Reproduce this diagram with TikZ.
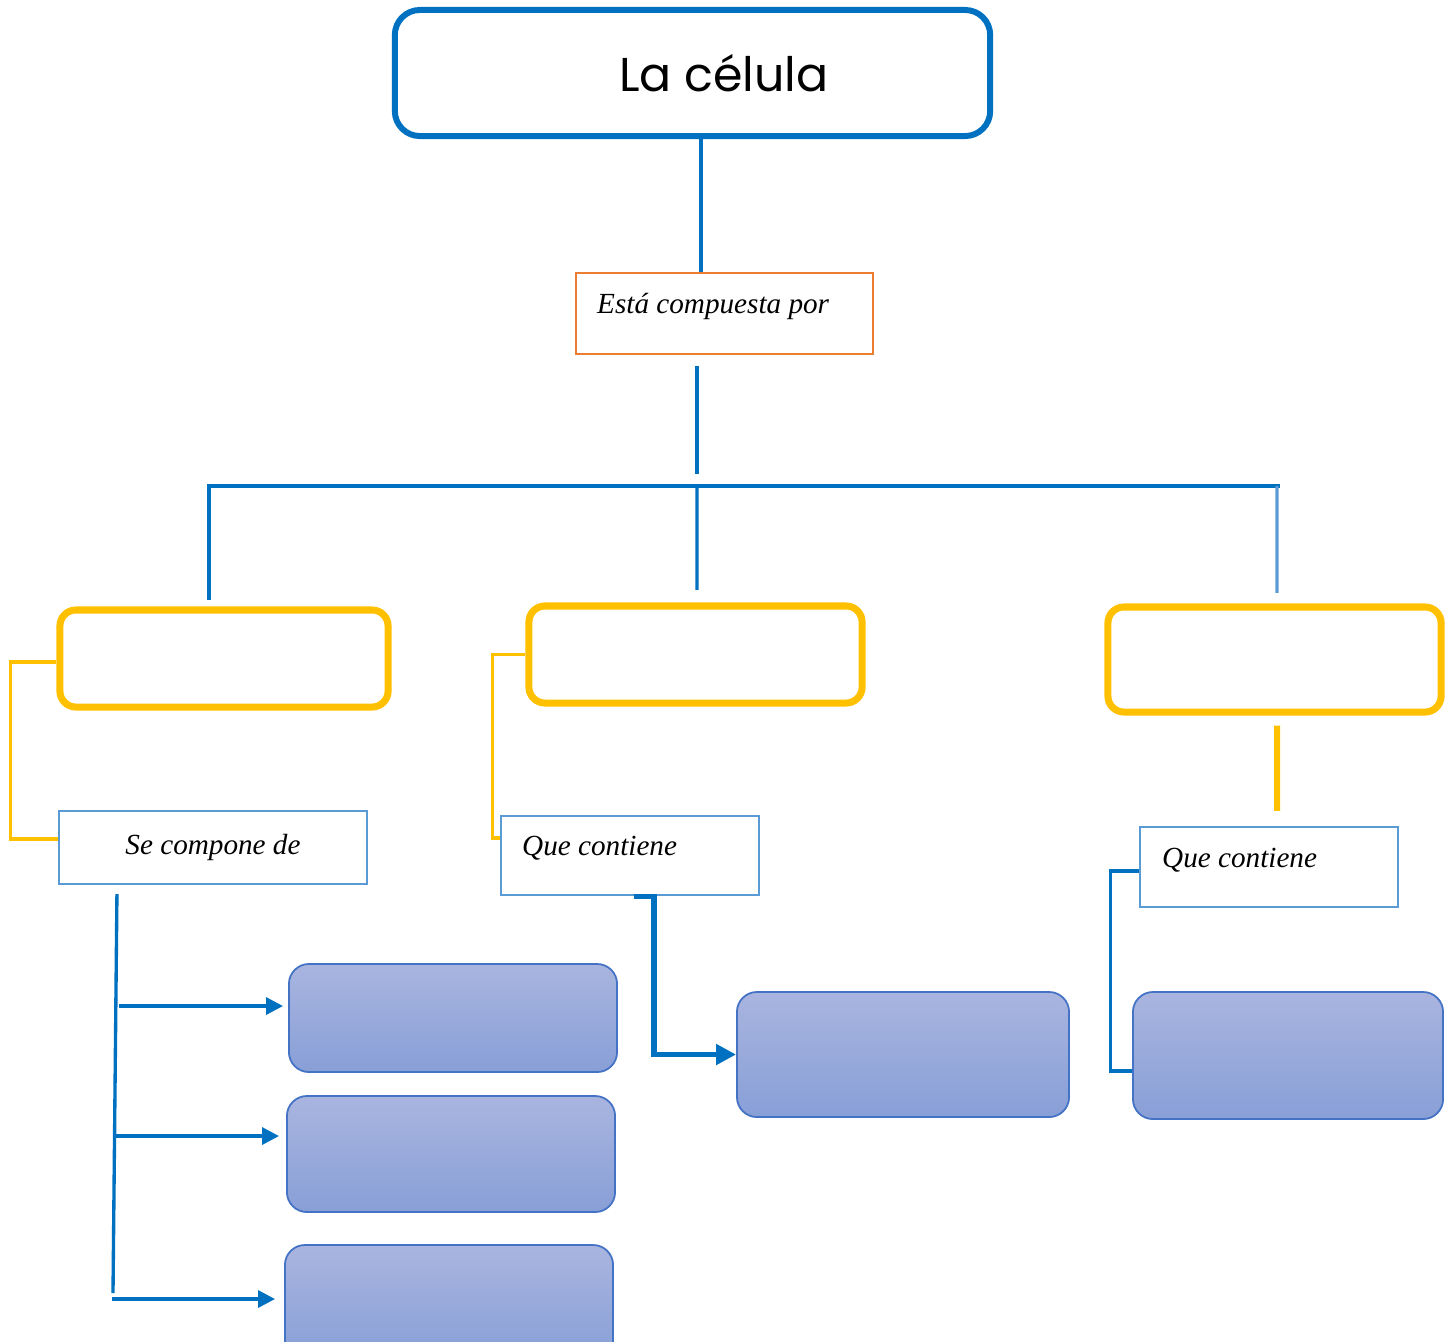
\documentclass[tikz,border=0pt]{standalone}
\usepackage{fontspec}
\setmainfont{Liberation Serif}
\newfontfamily\titulofont{Poppins}
\usetikzlibrary{arrows.meta}
\definecolor{azul}{HTML}{0070C0}
\definecolor{naranja}{HTML}{ED7D31}
\definecolor{amarillo}{HTML}{FFC000}
\definecolor{celeste}{HTML}{5B9BD5}
\definecolor{lilaclaro}{HTML}{A9B5DF}
\definecolor{lilaoscuro}{HTML}{889FD7}
\definecolor{borde}{HTML}{4472C4}
\tikzset{
  titulo/.style={draw=azul,line width=1.7pt,rounded corners=0.25cm,minimum width=5.95cm,minimum height=1.26cm},
  enlace/.style={draw=celeste,line width=0.65pt},
  parte/.style={draw=amarillo,line width=2pt,rounded corners=0.16cm},
  elemento/.style={draw=borde,line width=0.5pt,rounded corners=0.2cm,top color=lilaclaro,bottom color=lilaoscuro},
  linea/.style={azul,line width=0.95pt},
  guia/.style={amarillo,line width=0.95pt},
  flecha/.style={linea,-{Triangle[length=0.17cm,width=0.17cm]}},
  texto/.style={font=\fontsize{8.3}{10}\selectfont\itshape}
}

\begin{document}
\begin{tikzpicture}[x=0.01cm,y=-0.01cm]
    \useasboundingbox (0,0) rectangle (1452,1341);
    \node[titulo,label={[font=\titulofont\fontsize{13.5}{16}\selectfont,anchor=base,xshift=0.315cm]center:La célula}] (celula) at (692.5,73) {};
    \node[enlace,draw=naranja,minimum width=2.97cm,minimum height=0.81cm,label={[texto,anchor=base west,xshift=0.1cm]west:Está compuesta por}] (compuesta) at (724.5,313.5) {};

    \node[parte,minimum width=3.28cm,minimum height=0.97cm] (parte1) at (224,658.5) {};
    \node[parte,minimum width=3.33cm,minimum height=0.97cm] (parte2) at (695.5,654.5) {};
    \node[parte,minimum width=3.33cm,minimum height=1.05cm] (parte3) at (1274.5,659.5) {};

    \node[enlace,minimum width=3.08cm,minimum height=0.73cm,label={[texto,anchor=base]center:Se compone de}] (seCompone) at (213,847.5) {};
    \node[enlace,minimum width=2.58cm,minimum height=0.79cm,label={[texto,anchor=base west,xshift=0.1cm]west:Que contiene}] (contiene1) at (630,855.5) {};
    \node[enlace,minimum width=2.58cm,minimum height=0.8cm,label={[texto,anchor=base west,xshift=0.11cm]west:Que contiene}] (contiene2) at (1269,867) {};

    \node[elemento,minimum width=3.28cm,minimum height=1.08cm] (elem1) at (453,1018) {};
    \node[elemento,minimum width=3.28cm,minimum height=1.16cm] (elem2) at (451,1154) {};
    \node[elemento,minimum width=3.28cm,minimum height=1.15cm] (elem3) at (449,1302.5) {};
    \node[elemento,minimum width=3.32cm,minimum height=1.25cm] (elem4) at (903,1054.5) {};
    \node[elemento,minimum width=3.1cm,minimum height=1.27cm] (elem5) at (1288,1055.5) {};

    \coordinate (tronco) at (701,0);
    \coordinate (cruce) at (697,486);
    \draw[linea] (celula.south -| tronco) -- (compuesta.north -| tronco);
    \draw[linea] ([xshift=-0.275cm,yshift=-0.11cm]compuesta.south) -- ++(0,108);
    \draw[linea] ([xshift=-0.15cm,yshift=0.065cm]parte1.north) |- (1280,486);
    \draw[linea] (cruce) -- ([xshift=0.015cm,yshift=0.125cm]parte2.north);
    \draw[linea,celeste] (1277,486) -- ([xshift=0.025cm,yshift=0.105cm]parte3.north);

    \draw[guia] ([yshift=-0.035cm]parte1.west) -- ++(-46,0) |- ([yshift=0.085cm]seCompone.west);
    \draw[guia] (parte2.west) -- ++(-33,0) |- ([yshift=0.175cm]contiene1.west);
    \draw[guia,line width=1.7pt] ([xshift=0.025cm,yshift=-0.1cm]parte3.south) -- ([xshift=0.08cm,yshift=0.15cm]contiene2.north);

    \draw[linea] ([xshift=-0.96cm,yshift=-0.09cm]seCompone.south) -- (113,1293);
    \foreach \n/\y/\x/\s in {1/1006/119/0.05, 2/1136/115/0.07, 3/1299/112/0.09}
      \draw[flecha] (\x,\y) -- ([xshift=-\s cm]elem\n.west |- 0,\y);
    \draw[flecha,line width=1.5pt,-{Triangle[length=0.2cm,width=0.2cm]}] ([xshift=0.04cm]contiene1.south) -- ++(20,0) |- (elem4.west);
    \draw[linea] ([yshift=-0.04cm]contiene2.west) -- ++(-28,0) |- ([yshift=-0.155cm]elem5.west);
\end{tikzpicture}
\end{document}
